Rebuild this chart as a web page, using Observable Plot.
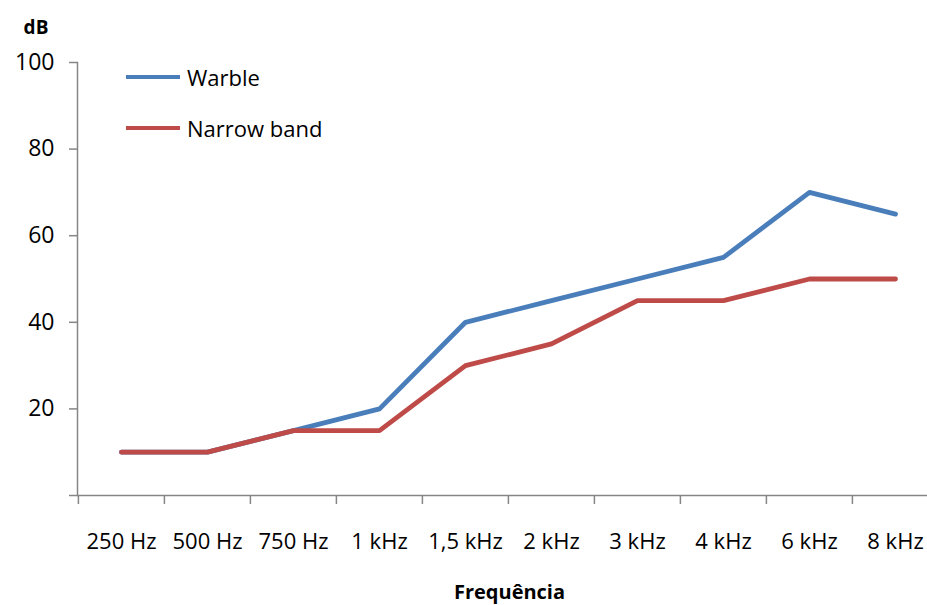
<!DOCTYPE html>
<html>
<head>
<meta charset="utf-8">
<script src="https://cdn.jsdelivr.net/npm/d3@7"></script>
<script src="https://cdn.jsdelivr.net/npm/@observablehq/plot@0.6"></script>
<style>
  html, body { margin: 0; padding: 0; background: white; }
  #wrap { position: relative; width: 927px; height: 605px; overflow: hidden; }
  .legend { position: absolute; left: 126px; font-family: "Open Sans", sans-serif; font-size: 22px; color: black; display: flex; align-items: center; }
  .legend .sw { width: 54px; height: 4.5px; margin-right: 7px; }
</style>
</head>
<body>
<div id="wrap"></div>
<script>
const categories = ["250 Hz", "500 Hz", "750 Hz", "1 kHz", "1,5 kHz", "2 kHz", "3 kHz", "4 kHz", "6 kHz", "8 kHz"];
const warble = [10, 10, 15, 20, 40, 45, 50, 55, 70, 65];
const narrowBand = [10, 10, 15, 15, 30, 35, 45, 45, 50, 50];
const seriesNames = ["Warble", "Narrow band"];
const seriesColors = ["#4A7EBB", "#BE4B48"];
const yTicks = [0, 20, 40, 60, 80, 100];
const yTitle = "dB";
const xTitle = "Frequência";

const rows = [];
categories.forEach((c, i) => {
  rows.push({cat: c, v: warble[i], s: seriesNames[0]});
});
categories.forEach((c, i) => {
  rows.push({cat: c, v: narrowBand[i], s: seriesNames[1]});
});

const gray = "#868686";
const step = (895.9 - 120.1) / (categories.length - 1);

const chart = Plot.plot({
  width: 927,
  height: 605,
  marginLeft: 77,
  marginRight: 0,
  marginTop: 62,
  marginBottom: 110,
  style: {fontFamily: "Open Sans", fontSize: "22px", color: "black", background: "white", overflow: "visible"},
  x: {type: "point", domain: categories, range: [120.1, 895.9], padding: 0, axis: null, label: null},
  y: {domain: [0, 100], axis: null, label: null},
  color: {domain: seriesNames, range: seriesColors},
  marks: [
    Plot.frame({anchor: "left", stroke: gray, strokeWidth: 1.5}),
    Plot.ruleY([0], {stroke: gray, strokeWidth: 1.5}),
    Plot.axisY({ticks: yTicks, label: null, tickSize: 8, tickPadding: 15, fontSize: 23, tickFormat: d => d === 0 ? "" : String(d), stroke: gray, fill: "black", strokeWidth: 1.5}),
    Plot.axisX({ticks: categories, label: null, tickSize: 9, tickFormat: () => "", dx: -step / 2, stroke: gray, strokeWidth: 1.5}),
    Plot.axisX({ticks: categories, label: null, tickSize: 0, tickPadding: 38, fill: "black"}),
    Plot.line(rows, {x: "cat", y: "v", z: "s", stroke: "s", strokeWidth: 4.8, strokeLinecap: "round", strokeLinejoin: "round"}),
    Plot.text([yTitle], {frameAnchor: "top-left", dx: -41.5, dy: -35, text: d => d, fontWeight: "bold", fontSize: 19, textAnchor: "middle", lineAnchor: "middle"}),
    Plot.text([xTitle], {frameAnchor: "bottom", dx: 7, dy: 97, text: d => d, fontWeight: "bold", fontSize: 20, textAnchor: "middle", lineAnchor: "middle"})
  ]
});

const wrap = document.getElementById("wrap");
wrap.appendChild(chart);
const legendTops = [62, 113];
seriesNames.forEach((name, i) => {
  const div = document.createElement("div");
  div.className = "legend";
  div.style.top = legendTops[i] + "px";
  div.style.height = "30px";
  const sw = document.createElement("span");
  sw.className = "sw";
  sw.style.background = seriesColors[i];
  const t = document.createElement("span");
  t.textContent = name;
  div.appendChild(sw);
  div.appendChild(t);
  wrap.appendChild(div);
});
</script>
</body>
</html>
